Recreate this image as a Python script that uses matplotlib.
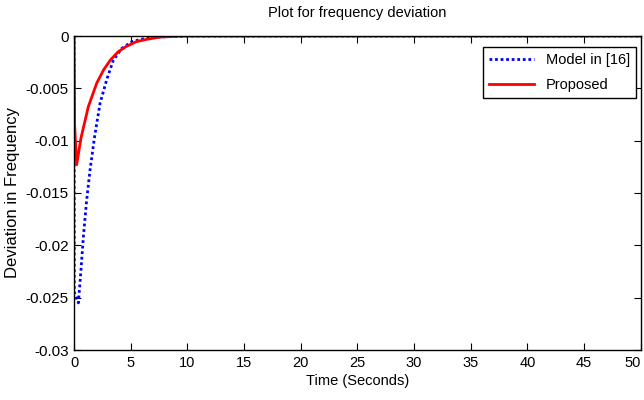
import numpy as np
import matplotlib
matplotlib.use('Agg')
import matplotlib.pyplot as plt
from matplotlib.ticker import FuncFormatter

plt.rcParams['font.family'] = ['Liberation Sans', 'DejaVu Sans']

# values
t_model = [0, 0.02, 0.38, 0.6, 0.82, 1.1, 1.41, 1.8, 2.3, 2.9, 3.47, 4.2, 5.1, 6.0, 7.0, 8.5, 10, 50]
dev_model = [0, -0.0245, -0.0255, -0.0225, -0.0192, -0.0158, -0.0128, -0.0097, -0.0064,
             -0.0041, -0.0023, -0.0012, -0.00054, -0.0003, -0.00012, -0.00005, 0, 0]

t_prop = [0, 0.05, 0.23, 0.6, 1.26, 2.0, 2.6, 3.2, 3.9, 4.6, 5.5, 6.5, 7.6, 9.0, 10, 50]
dev_prop = [0, -0.0085, -0.0123, -0.0098, -0.00675, -0.0045, -0.00325, -0.0023, -0.0015,
            -0.001, -0.00054, -0.0003, -0.0001, -0.00003, 0, 0]

x_ticks = [0, 5, 10, 15, 20, 25, 30, 35, 40, 45, 50]
y_ticks = [0, -0.005, -0.01, -0.015, -0.02, -0.025, -0.03]

fig = plt.figure(figsize=(6.44, 4.0), dpi=100)
ax = fig.add_axes([0.115, 0.125, 0.88, 0.785])

ax.plot(t_model, dev_model, color='#0000ff', linestyle=(0, (1, 1)), linewidth=2, label='Model in [16]')
ax.plot(t_prop, dev_prop, color='#ff0000', linewidth=2, label='Proposed')

ax.set_xlim(0, 50)
ax.set_ylim(-0.03, 0)
ax.set_xticks(x_ticks)
ax.set_yticks(y_ticks)
ax.yaxis.set_major_formatter(FuncFormatter(lambda v, p: '0' if v == 0 else ('%g' % v)))
ax.tick_params(direction='in', top=True, right=True, labelsize=11, length=5, pad=4)
ax.tick_params(axis='x', labelsize=10.5)
for s in ax.spines.values():
    s.set_linewidth(1)

# keep the last x label inside the figure edge
fig.canvas.draw()
ax.get_xticklabels()[-1].set_horizontalalignment('right')

ax.set_title('Plot for frequency deviation', fontsize=10.5, pad=14)
ax.set_xlabel('Time (Seconds)', fontsize=10.5, labelpad=3)
ax.set_ylabel('Deviation in Frequency', fontsize=12, labelpad=4)

leg = ax.legend(loc='upper right', bbox_to_anchor=(0.991, 0.965), fontsize=10.5,
                fancybox=False, framealpha=1, edgecolor='black', handlelength=3.1,
                labelspacing=0.75, borderaxespad=0)
leg.get_frame().set_linewidth(1)

fig.savefig('out.png', dpi=100)
